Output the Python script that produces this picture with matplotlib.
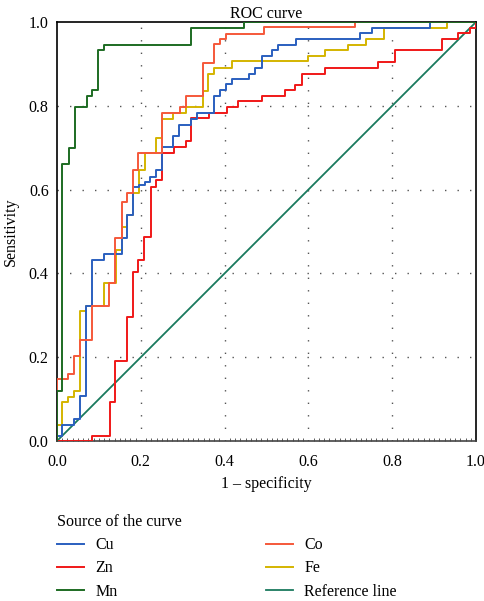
import numpy as np
import matplotlib
matplotlib.use('Agg')
from matplotlib import pyplot as plt

# ROC points (fpr, tpr), drawn as post-steps
mn_x = [0, 0, 0.013, 0.029, 0.042, 0.071, 0.084, 0.099, 0.113, 0.321, 0.447, 1.0]
mn_y = [0, 0.12, 0.66, 0.70, 0.796, 0.823, 0.838, 0.932, 0.945, 0.985, 1.0, 1.0]

cu_x = [0, 0, 0.013, 0.041, 0.055, 0.069, 0.084, 0.113, 0.154, 0.167, 0.182, 0.196,
        0.209, 0.222, 0.236, 0.25, 0.278, 0.292, 0.321, 0.335, 0.375, 0.389, 0.403,
        0.417, 0.459, 0.473, 0.489, 0.514, 0.528, 0.57, 0.723, 0.751, 0.89, 1.0]
cu_y = [0, 0.012, 0.038, 0.052, 0.107, 0.322, 0.432, 0.446, 0.484, 0.539, 0.607, 0.612,
        0.619, 0.631, 0.647, 0.702, 0.728, 0.754, 0.768, 0.782, 0.823, 0.838, 0.851,
        0.863, 0.877, 0.891, 0.919, 0.932, 0.945, 0.959, 0.973, 0.986, 1.0, 1.0]

fe_x = [0, 0, 0.013, 0.027, 0.041, 0.055, 0.069, 0.113, 0.141, 0.154, 0.168, 0.182,
        0.196, 0.21, 0.236, 0.25, 0.278, 0.307, 0.348, 0.361, 0.375, 0.417, 0.6, 0.64,
        0.695, 0.737, 0.78, 0.93, 1.0]
fe_y = [0, 0.038, 0.094, 0.106, 0.12, 0.31, 0.322, 0.376, 0.457, 0.511, 0.539, 0.593,
        0.647, 0.688, 0.722, 0.768, 0.782, 0.796, 0.836, 0.877, 0.891, 0.906, 0.919, 0.932,
        0.945, 0.959, 0.986, 1.0, 1.0]

co_x = [0, 0, 0.027, 0.041, 0.055, 0.084, 0.125, 0.138, 0.154, 0.168, 0.182, 0.194,
        0.25, 0.294, 0.307, 0.348, 0.375, 0.389, 0.403, 0.495, 0.711, 1.0]
co_y = [0, 0.147, 0.161, 0.203, 0.241, 0.322, 0.376, 0.484, 0.571, 0.593, 0.647, 0.688,
        0.782, 0.796, 0.823, 0.903, 0.947, 0.959, 0.971, 0.987, 1.0, 1.0]

zn_x = [0, 0.083, 0.126, 0.138, 0.167, 0.181, 0.194, 0.208, 0.224, 0.237, 0.251, 0.279,
        0.307, 0.321, 0.363, 0.405, 0.433, 0.489, 0.544, 0.568, 0.584, 0.64, 0.765,
        0.807, 0.918, 0.958, 0.986, 1.0]
zn_y = [0, 0.012, 0.093, 0.19, 0.297, 0.404, 0.432, 0.486, 0.607, 0.623, 0.688, 0.702,
        0.716, 0.77, 0.784, 0.798, 0.811, 0.823, 0.838, 0.85, 0.876, 0.891, 0.904,
        0.932, 0.959, 0.973, 0.986, 1.0]

ref_x = [0, 1]
ref_y = [0, 1]

plt.rcParams['font.family'] = ['Liberation Serif', 'DejaVu Serif']
fs = 11.5
plt.rcParams['font.size'] = fs

fig = plt.figure(figsize=(4.85, 6.01), dpi=100)
ax = fig.add_axes([57/485, 1-441/601, 419/485, 419/601])

grid_style = dict(color='#555555', lw=1.0, ls=(0, (1, 8)), zorder=0)
for v in [0.2, 0.4, 0.6, 0.8]:
    ax.axvline(v, **grid_style)
    ax.axhline(v, **grid_style)

ax.plot(ref_x, ref_y, c='#1a7a5e', lw=1.3, label='Reference line', zorder=2)
ax.plot(zn_x, zn_y, c='#f01818', lw=1.4, drawstyle='steps-post', label='Zn', zorder=3)
ax.plot(fe_x, fe_y, c='#d4b400', lw=1.4, drawstyle='steps-post', label='Fe', zorder=3)
ax.plot(cu_x, cu_y, c='#2a5fbf', lw=1.4, drawstyle='steps-post', label='Cu', zorder=3)
ax.plot(co_x, co_y, c='#f5583a', lw=1.4, drawstyle='steps-post', label='Co', zorder=3)
ax.plot(mn_x, mn_y, c='#1d6b22', lw=1.4, drawstyle='steps-post', label='Mn', zorder=4)

ax.set_xlim(0, 1)
ax.set_ylim(0, 1)
ax.set_xticks(np.arange(0, 1.01, 0.2))
ax.set_yticks(np.arange(0, 1.01, 0.2))
ax.set_xticklabels(['0.0', '0.2', '0.4', '0.6', '0.8', '1.0'])
ax.set_yticklabels(['0.0', '0.2', '0.4', '0.6', '0.8', '1.0'])
ax.set_xticks(np.arange(0, 1.0001, 0.0125), minor=True)
ax.tick_params(axis='x', which='major', length=0, pad=9, labelsize=fs)
ax.tick_params(axis='y', which='major', length=0, pad=6, labelsize=fs)
ax.tick_params(axis='x', which='minor', length=2, direction='in', color='#444444')
for s in ax.spines.values():
    s.set_color('black')
    s.set_linewidth(1.2)
ax.spines['bottom'].set_color('#444444')

ax.set_title('ROC curve', fontsize=fs, pad=3)
ax.set_xlabel('1 – specificity', fontsize=fs, labelpad=5)
ax.set_ylabel('Sensitivity', fontsize=fs, labelpad=7)

h = {l.get_label(): l for l in ax.get_lines() if not l.get_label().startswith('_')}
order = ['Cu', 'Zn', 'Mn', 'Co', 'Fe', 'Reference line']
leg = fig.legend([h[k] for k in order], order, ncol=2, loc='upper left',
                 bbox_to_anchor=(57/485, 1-514/601), frameon=False,
                 title='Source of the curve', alignment='left',
                 handlelength=1.7, handletextpad=0.7, columnspacing=9.3,
                 labelspacing=0.45, borderpad=0, borderaxespad=0,
                 fontsize=fs, title_fontsize=fs)

fig.savefig('out.png', dpi=100)
